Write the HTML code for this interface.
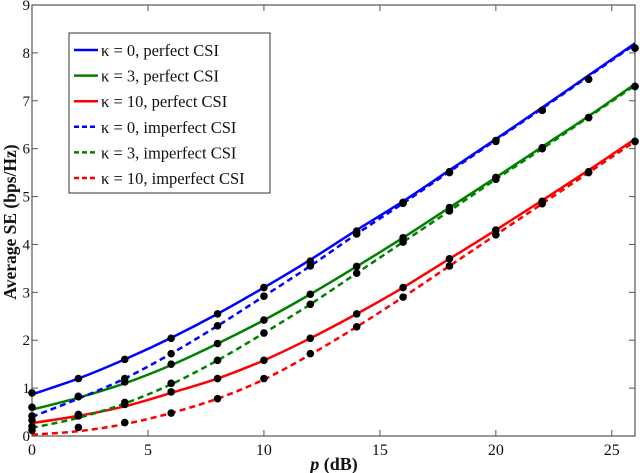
<!DOCTYPE html>
<html><head><meta charset="utf-8"><style>
html,body{margin:0;padding:0;background:#fff;}
svg{display:block;font-family:"Liberation Serif",serif;}
</style></head><body>
<svg id="chart" width="640" height="473"></svg>
<script>
const xs=[0,2,4,6,8,10,12,14,16,18,20,22,24,26];
const bluePerfect=[0.87,1.2,1.6,2.05,2.55,3.1,3.68,4.3,4.9,5.55,6.2,6.86,7.53,8.2];
const blueImperfect=[0.4,0.78,1.2,1.72,2.3,2.92,3.55,4.22,4.86,5.52,6.18,6.84,7.51,8.18];
const greenPerfect=[0.55,0.8,1.1,1.48,1.93,2.42,2.96,3.54,4.14,4.77,5.4,6.04,6.68,7.35];
const greenImperfect=[0.17,0.38,0.68,1.08,1.58,2.15,2.75,3.4,4.05,4.7,5.36,6.0,6.66,7.32];
const redPerfect=[0.27,0.42,0.62,0.9,1.2,1.58,2.04,2.55,3.1,3.7,4.3,4.92,5.55,6.2];
const redImperfect=[0.03,0.1,0.25,0.48,0.78,1.18,1.7,2.28,2.9,3.55,4.2,4.85,5.5,6.15];
const blueMarkers=[0.9,1.2,1.6,2.04,2.55,3.1,3.65,4.28,4.88,5.52,6.17,6.8,7.45,8.1];
const blueImpMarkers=[0.42,0.82,1.2,1.72,2.3,2.92,3.55,4.22,4.86,5.5,6.15,6.8,7.45,8.1];
const greenMarkers=[0.6,0.83,1.13,1.5,1.93,2.42,2.96,3.54,4.14,4.77,5.4,6.02,6.65,7.3];
const greenImpMarkers=[0.2,0.42,0.7,1.1,1.58,2.15,2.75,3.4,4.05,4.7,5.36,6.0,6.65,7.3];
const redMarkers=[0.33,0.45,0.66,0.92,1.2,1.58,2.04,2.55,3.1,3.7,4.3,4.9,5.52,6.15];
const redImpMarkers=[0.12,0.18,0.28,0.48,0.78,1.2,1.72,2.28,2.9,3.55,4.2,4.85,5.5,6.15];
const xTicks=[0,5,10,15,20,25];
const yTicks=[0,1,2,3,4,5,6,7,8,9];
const legendLabels=["κ = 0, perfect CSI","κ = 3, perfect CSI","κ = 10, perfect CSI","κ = 0, imperfect CSI","κ = 3, imperfect CSI","κ = 10, imperfect CSI"];

const svg=document.getElementById('chart');
const NS='http://www.w3.org/2000/svg';
const L=32,R=635,T=5,B=436,XMAX=26,YMAX=9;
const X=v=>L+(v/XMAX)*(R-L);
const Y=v=>B-(v/YMAX)*(B-T);
function mk(tag,attrs,parent){const e=document.createElementNS(NS,tag);for(const k in attrs)e.setAttribute(k,attrs[k]);(parent||svg).appendChild(e);return e;}

const axes=mk('g',{});


const frame=mk('rect',{x:L,y:T,width:R-L,height:B-T,fill:'none',stroke:'#555','stroke-width':1.2},axes);


xTicks.forEach(t=>{
  const x=X(t);
  mk('line',{x1:x,x2:x,y1:B,y2:B-6,stroke:'#555'},axes);
  mk('line',{x1:x,x2:x,y1:T,y2:T+6,stroke:'#555'},axes);
  const tx=mk('text',{x:x,y:B+19,'text-anchor':'middle','font-size':16,fill:'#111'},axes);
  tx.textContent=t;
  
  
});
yTicks.forEach(t=>{
  const y=Y(t);
  mk('line',{x1:L,x2:L+6,y1:y,y2:y,stroke:'#555'},axes);
  mk('line',{x1:R,x2:R-6,y1:y,y2:y,stroke:'#555'},axes);
  const tx=mk('text',{x:L-2,y:y+5,'text-anchor':'end','font-size':15,fill:'#111'},axes);
  tx.textContent=t;
  
  
});
const yl=mk('text',{x:0,y:0,transform:'translate(16,222) rotate(-90)','text-anchor':'middle','font-size':17.5,'font-weight':'bold',fill:'#111'});
yl.textContent='Average SE (bps/Hz)';


const xl=mk('text',{x:334,y:470,'text-anchor':'middle','font-size':18,'font-weight':'bold',fill:'#111'});
xl.innerHTML='<tspan font-style="italic">p</tspan> (dB)';



const series=[
 {d:bluePerfect,m:blueMarkers,c:'#0000ff',dash:null,n:'blue-perfect'},
 {d:greenPerfect,m:greenMarkers,c:'#008000',dash:null,n:'green-perfect'},
 {d:redPerfect,m:redMarkers,c:'#ff0000',dash:null,n:'red-perfect'},
 {d:blueImperfect,m:blueImpMarkers,c:'#0000ff',dash:'6,4',n:'blue-imperfect'},
 {d:greenImperfect,m:greenImpMarkers,c:'#008000',dash:'6,4',n:'green-imperfect'},
 {d:redImperfect,m:redImpMarkers,c:'#ff0000',dash:'6,4',n:'red-imperfect'}
];
function smooth(pts){
  let d='M'+pts[0][0]+','+pts[0][1];
  for(let i=0;i<pts.length-1;i++){
    const p0=pts[Math.max(0,i-1)],p1=pts[i],p2=pts[i+1],p3=pts[Math.min(pts.length-1,i+2)];
    const c1=[p1[0]+(p2[0]-p0[0])/6,p1[1]+(p2[1]-p0[1])/6];
    const c2=[p2[0]-(p3[0]-p1[0])/6,p2[1]-(p3[1]-p1[1])/6];
    d+=` C${c1[0]},${c1[1]} ${c2[0]},${c2[1]} ${p2[0]},${p2[1]}`;
  }
  return d;
}
series.forEach(s=>{
  const pts=xs.map((x,i)=>[X(x),Y(s.d[i])]);
  const a={d:smooth(pts),fill:'none',stroke:s.c,'stroke-width':2.5};
  if(s.dash)a['stroke-dasharray']=s.dash;
  const p=mk('path',a);
  
  
});
series.forEach(s=>{
  xs.forEach((x,i)=>{
    const c=mk('circle',{cx:X(x),cy:Y(s.m[i]),r:3.8,fill:'#000'});
    
    
  });
});

const lg=mk('g',{});


mk('rect',{x:69,y:33,width:201,height:160,fill:'#fff',stroke:'#333'},lg);
series.forEach((s,i)=>{
  const y=50+i*25.6;
  const a={x1:74,x2:98,y1:y,y2:y,stroke:s.c,'stroke-width':2.5};
  if(s.dash)a['stroke-dasharray']='5,3';
  const ln=mk('line',a,lg);
  
  
  const t=mk('text',{x:101,y:y+6,'font-size':16.5,fill:'#111'},lg);
  t.textContent=legendLabels[i];
  
  
});
</script>
</body></html>
